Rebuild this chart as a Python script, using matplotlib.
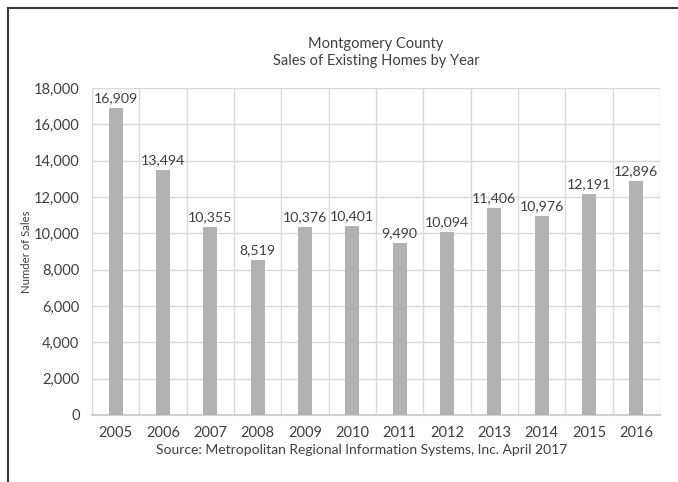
import numpy as np
import matplotlib.pyplot as plt
from matplotlib.lines import Line2D

years = ["2005", "2006", "2007", "2008", "2009", "2010",
         "2011", "2012", "2013", "2014", "2015", "2016"]
sales = [16909, 13494, 10355, 8519, 10376, 10401,
         9490, 10094, 11406, 10976, 12191, 12896]
yticks = [0, 2000, 4000, 6000, 8000, 10000, 12000, 14000, 16000, 18000]

plt.rcParams["font.family"] = ["Lato", "DejaVu Sans"]
TEXT = "#404040"
W, H = 678, 482

fig = plt.figure(figsize=(W / 100, H / 100), dpi=100)
ax = fig.add_axes([92 / W, 1 - 415 / H, (660 - 92) / W, (415 - 88) / H])

x = np.arange(len(years))
ax.bar(x, sales, width=0.3, color="#b2b2b2", zorder=3)
for xi, v in zip(x, sales):
    ax.text(xi, v + 200, f"{v:,}", ha="center", va="bottom",
            fontsize=10.2, color=TEXT, zorder=4)

ax.set_xlim(-0.5, len(years) - 0.5)
ax.set_ylim(0, 18000)
ax.set_yticks(yticks)
ax.set_yticklabels([f"{t:,}" for t in yticks])
ax.set_xticks(x)
ax.set_xticklabels(years)

# cell grid: horizontal at ticks, vertical between categories
for t in yticks[1:]:
    ax.axhline(t, color="#d9d9d9", lw=1, zorder=1)
for b in np.arange(-0.5, len(years) + 0.5, 1):
    ax.axvline(b, color="#d9d9d9", lw=1, zorder=1)

for s in ["top", "right", "left"]:
    ax.spines[s].set_visible(False)
ax.spines["bottom"].set_color("#d0d0d0")
ax.spines["bottom"].set_linewidth(1.5)
ax.tick_params(length=0, labelsize=10.5, colors=TEXT, pad=8)
ax.tick_params(axis="y", pad=9)

fig.text(27 / W, 1 - 252 / H, "Numder of Sales", rotation=90, ha="center",
         va="center", fontsize=8.2, color=TEXT)

fig.text(376 / W, 1 - 44 / H, "Montgomery County", ha="center", va="center",
         fontsize=10.5, color=TEXT)
fig.text(376 / W, 1 - 61 / H, "Sales of Existing Homes by Year", ha="center",
         va="center", fontsize=10.5, color=TEXT)
fig.text(362 / W, 1 - 450 / H,
         "Source: Metropolitan Regional Information Systems, Inc. April 2017",
         ha="center", va="center", fontsize=10, color=TEXT)

# outer frame (left and top only)
fig.add_artist(Line2D([8 / W, 8 / W], [0, 1 - 8 / H], color="#3a3a3a", lw=1.5))
fig.add_artist(Line2D([8 / W, 1], [1 - 8 / H, 1 - 8 / H], color="#3a3a3a", lw=1.5))

fig.savefig("out.png", dpi=100)
